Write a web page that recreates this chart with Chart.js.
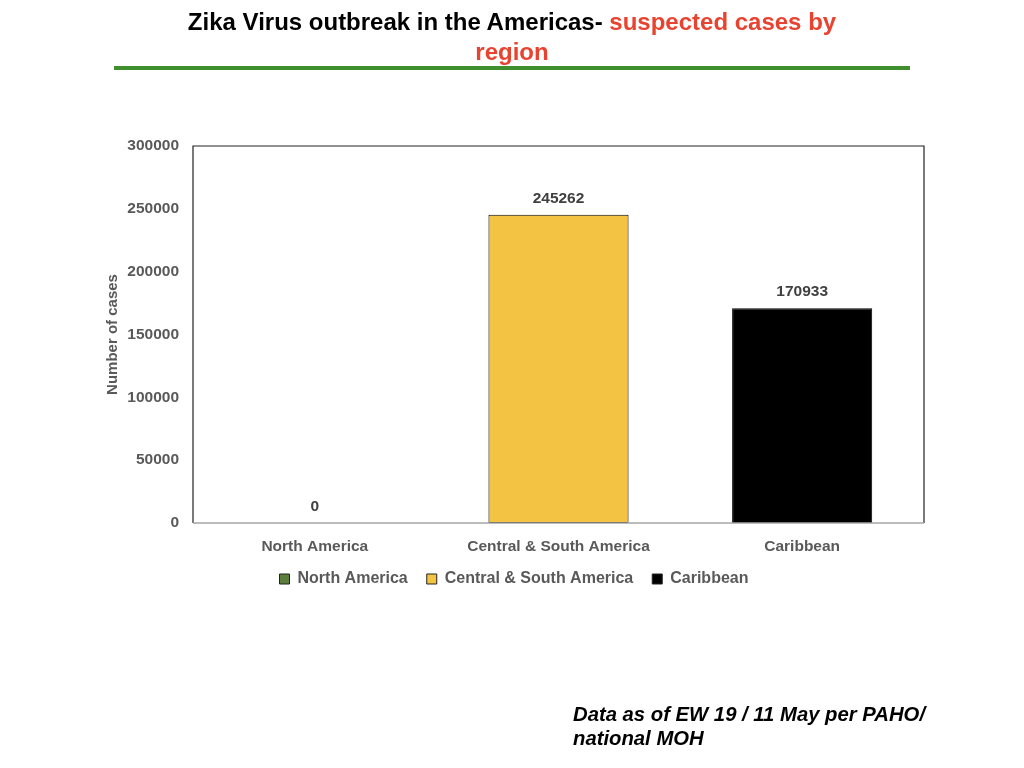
<!DOCTYPE html>
<html>
<head>
<meta charset="utf-8">
<script src="https://cdn.jsdelivr.net/npm/chart.js@4"></script>
<style>
  html, body { margin: 0; padding: 0; background: #fff; }
  body { width: 1024px; height: 768px; position: relative; overflow: hidden; font-family: "Liberation Sans", Arial, sans-serif; }
  #title { position: absolute; left: 0; width: 1024px; top: 7px; text-align: center; font-weight: bold; font-size: 24px; line-height: 30px; color: #000; }
  #title .red { color: #e8432f; }
  #rule { position: absolute; left: 114px; width: 796px; top: 66px; height: 4px; background: #3f8f2f; }
  #note { position: absolute; left: 573px; top: 702px; font-weight: bold; font-style: italic; font-size: 20.3px; line-height: 24px; color: #000; }
  #wrap { position: absolute; left: 0; top: 0; width: 1024px; height: 768px; }
</style>
</head>
<body>
<div id="wrap"><canvas id="c" width="1024" height="768"></canvas></div>
<div id="title">Zika Virus outbreak in the Americas- <span class="red">suspected cases by<br>region</span></div>
<div id="rule"></div>
<div id="note">Data as of EW 19 / 11 May per PAHO/<br>national MOH</div>
<script>
const categories = ["North America", "Central & South America", "Caribbean"];
const cases = [0, 245262, 170933];
const barColors = ["#5b7f3a", "#f3c343", "#000000"];
const yTicks = [0, 50000, 100000, 150000, 200000, 250000, 300000];
const yTitle = "Number of cases";

const FONT = '"Liberation Sans", Arial, sans-serif';

const boxPlugin = {
  id: 'box',
  afterLayout(chart) {
    if (chart.legend) { chart.legend.top -= 7; chart.legend.bottom -= 7; }
  },
  afterDraw(chart) {
    const a = chart.chartArea, ctx = chart.ctx;
    ctx.save();
    ctx.strokeStyle = '#222';
    ctx.lineWidth = 1.2;
    ctx.beginPath();
    ctx.moveTo(a.left, a.bottom);
    ctx.lineTo(a.left, a.top);
    ctx.lineTo(a.right, a.top);
    ctx.lineTo(a.right, a.bottom);
    ctx.stroke();
    ctx.strokeStyle = '#a6a6a6';
    ctx.lineWidth = 1.5;
    ctx.beginPath();
    ctx.moveTo(a.left, a.bottom);
    ctx.lineTo(a.right, a.bottom);
    ctx.stroke();
    ctx.restore();
  }
};

const labelPlugin = {
  id: 'vals',
  afterDatasetsDraw(chart) {
    const ctx = chart.ctx;
    const meta = chart.getDatasetMeta(0);
    ctx.save();
    ctx.font = 'bold 15.5px ' + FONT;
    ctx.fillStyle = '#404040';
    ctx.textAlign = 'center';
    ctx.textBaseline = 'middle';
    meta.data.forEach((bar, i) => {
      ctx.fillText(String(cases[i]), bar.x, bar.y - 16);
    });
    ctx.restore();
  }
};

new Chart(document.getElementById('c'), {
  type: 'bar',
  data: {
    labels: categories,
    datasets: [{
      data: cases,
      backgroundColor: barColors,
      borderColor: '#000',
      borderWidth: 1,
      borderSkipped: false,
      categoryPercentage: 1,
      barPercentage: 0.575
    }]
  },
  options: {
    responsive: false,
    animation: false,
    devicePixelRatio: 1,
    layout: { padding: { top: 146, left: 104, right: 100, bottom: 164 } },
    plugins: {
      title: { display: false },
      tooltip: { enabled: false },
      legend: {
        position: 'bottom',
        labels: {
          boxWidth: 10,
          boxHeight: 10,
          padding: 19,
          color: '#595959',
          font: { family: FONT, size: 16, weight: 'bold' },
          generateLabels() {
            return categories.map((c, i) => ({
              text: c,
              fillStyle: barColors[i],
              strokeStyle: '#222',
              lineWidth: 1,
              fontColor: '#595959',
              hidden: false,
              index: i
            }));
          }
        }
      }
    },
    scales: {
      x: {
        grid: { display: false, drawTicks: false },
        border: { display: false },
        ticks: {
          color: '#595959',
          padding: 14,
          font: { family: FONT, size: 15.5, weight: 'bold' }
        },
        afterFit(s) { s.height = 36; }
      },
      y: {
        min: 0,
        max: 300000,
        grid: { display: false, drawTicks: false },
        border: { display: false },
        afterBuildTicks(s) { s.ticks = yTicks.map(v => ({ value: v })); },
        ticks: {
          color: '#595959',
          padding: 14,
          font: { family: FONT, size: 15.5, weight: 'bold' },
          callback: (v) => String(v)
        },
        title: {
          display: true,
          text: yTitle,
          color: '#595959',
          padding: { top: 0, bottom: 0 },
          font: { family: FONT, size: 15, weight: 'bold' }
        },
        afterFit(s) { s.width = 89; }
      }
    }
  },
  plugins: [boxPlugin, labelPlugin]
});
</script>
</body>
</html>
